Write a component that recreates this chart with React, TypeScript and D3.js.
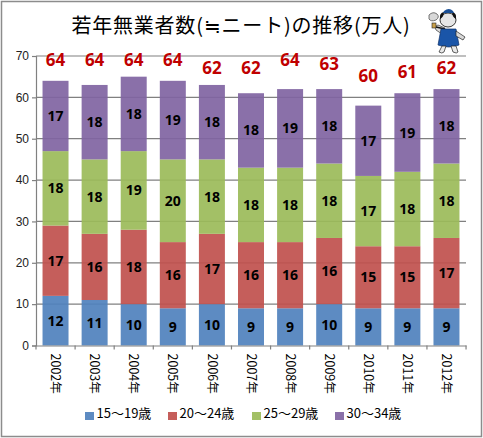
import * as d3 from 'd3';
import React, { useEffect, useRef } from 'react';

const years = ['2002年', '2003年', '2004年', '2005年', '2006年', '2007年', '2008年', '2009年', '2010年', '2011年', '2012年'];
const ageGroups = ['15～19歳', '20～24歳', '25～29歳', '30～34歳'];
const age15to19 = [12, 11, 10, 9, 10, 9, 9, 10, 9, 9, 9];
const age20to24 = [17, 16, 18, 16, 17, 16, 16, 16, 15, 15, 17];
const age25to29 = [18, 18, 19, 20, 18, 18, 18, 18, 17, 18, 18];
const age30to34 = [17, 18, 18, 19, 18, 18, 19, 18, 17, 19, 18];
const totals = [64, 64, 64, 64, 62, 62, 64, 63, 60, 61, 62];
const yTicks = [0, 10, 20, 30, 40, 50, 60, 70];
const colors = ['#4f81bd', '#c0504d', '#9bbb59', '#8064a2'];

const W = 483;
const H = 438;
const jp = '"Noto Sans CJK JP", sans-serif';

function App() {
  const svgRef = useRef<SVGSVGElement>(null);

  useEffect(() => {
    const svg = d3.select(svgRef.current);
    svg.selectAll('*').remove();

    const x = d3.scaleBand<string>().domain(years).range([36, 466]).paddingInner(0.335).paddingOuter(0.167);
    const y = d3.scaleLinear().domain([0, 70]).range([345.5, 56]);

    svg.append('rect')
      .attr('x', 1.5).attr('y', 1.5).attr('width', W - 3).attr('height', H - 3)
      .attr('fill', '#fff').attr('stroke', '#8c8c8c').attr('stroke-width', 1.5);

    svg.append('text')
      .attr('x', 241).attr('y', 33)
      .attr('text-anchor', 'middle')
      .attr('font-family', jp).attr('font-size', 20).attr('font-weight', 400).attr('letter-spacing', 0.8).attr('fill', '#000')
      .text('若年無業者数(≒ニート)の推移(万人)');

    // gridlines behind the bars, the bars let them show through a little
    svg.append('g')
      .selectAll('line')
      .data(yTicks.slice(1))
      .join('line')
      .attr('x1', 36).attr('x2', 466)
      .attr('y1', (d) => y(d)).attr('y2', (d) => y(d))
      .attr('stroke', '#808080').attr('stroke-width', 1.2);

    // stacked bars
    const rows = years.map((yr, i) => ({
      yr,
      a: age15to19[i], b: age20to24[i], c: age25to29[i], d: age30to34[i],
    }));
    const stack = d3.stack<any>().keys(['a', 'b', 'c', 'd'])(rows);

    stack.forEach((layer, k) => {
      svg.append('g')
        .selectAll('rect')
        .data(layer)
        .join('rect')
        .attr('x', (d: any) => x(d.data.yr)!)
        .attr('width', x.bandwidth())
        .attr('y', (d) => y(d[1]))
        .attr('height', (d) => y(d[0]) - y(d[1]))
        .attr('fill', colors[k])
        .attr('fill-opacity', 0.92);
    });

    stack.forEach((layer) => {
      svg.append('g')
        .selectAll('text')
        .data(layer)
        .join('text')
        .attr('x', (d: any) => x(d.data.yr)! + x.bandwidth() / 2)
        .attr('y', (d) => y((d[0] + d[1]) / 2) + 5)
        .attr('text-anchor', 'middle')
        .attr('font-family', '"Open Sans", sans-serif')
        .attr('font-weight', 700).attr('font-size', 14).attr('fill', '#000')
        .text((d) => d[1] - d[0]);
    });

    // totals float above each bar at their own value
    svg.append('g')
      .selectAll('text')
      .data(totals)
      .join('text')
      .attr('x', (d, i) => x(years[i])! + x.bandwidth() / 2)
      .attr('y', (d) => y(d) - 15)
      .attr('text-anchor', 'middle')
      .attr('font-family', '"Open Sans", sans-serif')
      .attr('font-weight', 700).attr('font-size', 17).attr('fill', '#c00000')
      .text((d) => d);

    const yAxis = d3.axisLeft(y).tickValues(yTicks).tickSize(4).tickPadding(3);
    const yG = svg.append('g').attr('transform', 'translate(36,0)').call(yAxis);
    yG.selectAll('text').attr('font-family', '"Liberation Sans", sans-serif').attr('font-size', 12).attr('fill', '#222');
    yG.selectAll('line,path').attr('stroke', '#808080').attr('stroke-width', 1.2);

    const xAxis = d3.axisBottom(x).tickSize(0);
    const xG = svg.append('g').attr('transform', 'translate(0,345.5)').call(xAxis);
    xG.select('path').attr('stroke', '#808080').attr('stroke-width', 1.2);
    xG.selectAll('text')
      .attr('font-family', jp).attr('font-size', 12.5).attr('fill', '#000')
      .attr('transform', 'translate(0,8) rotate(90)')
      .attr('x', 0).attr('y', 0).attr('dy', '0.35em')
      .attr('text-anchor', 'start');
    // ticks fall between the bands
    xG.selectAll('line.sep')
      .data(d3.range(years.length + 1))
      .join('line')
      .attr('class', 'sep')
      .attr('x1', (i) => 36 + i * x.step()).attr('x2', (i) => 36 + i * x.step())
      .attr('y1', 0).attr('y2', 4)
      .attr('stroke', '#808080').attr('stroke-width', 1.2);

    // legend
    const legendX = [85, 168, 252, 335];
    const legend = svg.append('g')
      .selectAll('g')
      .data(ageGroups)
      .join('g')
      .attr('transform', (d, i) => `translate(${legendX[i]},413)`);
    legend.append('rect')
      .attr('x', 0).attr('y', -1).attr('width', 9).attr('height', 8)
      .attr('fill', (d, i) => colors[i])
      .attr('fill-opacity', 0.92);
    legend.append('text')
      .attr('x', 11.5).attr('y', 5)
      .attr('font-family', jp).attr('font-size', 13).attr('fill', '#000')
      .text((d) => d);

    // mascot in the corner
    const m = svg.append('g').attr('transform', 'translate(427,6)');
    m.append('path').attr('d', 'M2 9q4-4 8-1q3 3-1 6q-5 2-7-1z').attr('fill', '#d8d8d8').attr('stroke', '#555').attr('stroke-width', 0.8);
    m.append('path').attr('d', 'M9 24q-2-4 2-5l7 3l-3 6z').attr('fill', '#dcdcdc').attr('stroke', '#333').attr('stroke-width', 0.7);
    m.append('rect').attr('x', 5).attr('y', 17).attr('width', 4).attr('height', 5).attr('fill', '#c9a04a').attr('stroke', '#222').attr('stroke-width', 0.6);
    m.append('ellipse').attr('cx', 21).attr('cy', 14).attr('rx', 8).attr('ry', 7).attr('fill', '#e6e6e6').attr('stroke', '#222').attr('stroke-width', 0.9);
    m.append('path').attr('d', 'M13 13q-1-6 4-7q0 5-4 7zM29 13q1-6-4-7q0 5 4 7z').attr('fill', '#111');
    m.append('path').attr('d', 'M17 5q5-4 9 0l1 2h-11z').attr('fill', '#1a4f95');
    m.append('path').attr('d', 'M9 21l9 2').attr('stroke', '#111').attr('stroke-width', 1.3);
    m.append('path').attr('d', 'M14 23h15l3 16q-10 4-21 0z').attr('fill', '#1a55a8').attr('stroke', '#0f3068').attr('stroke-width', 0.7);
    m.append('path').attr('d', 'M29 25l9 6l-2 3l-7-4z').attr('fill', '#d8d8d8').attr('stroke', '#222').attr('stroke-width', 0.7);
    m.append('path').attr('d', 'M15 40l-3 6q3 2 5 0l2-6zM24 40l2 6q4 2 5 0l-2-6z').attr('fill', '#e8e8e8').attr('stroke', '#222').attr('stroke-width', 0.7);
  }, []);

  return (
    <svg ref={svgRef} width={W} height={H} style={{ position: 'absolute', left: 0, top: 0 }} />
  );
}

export default App;
